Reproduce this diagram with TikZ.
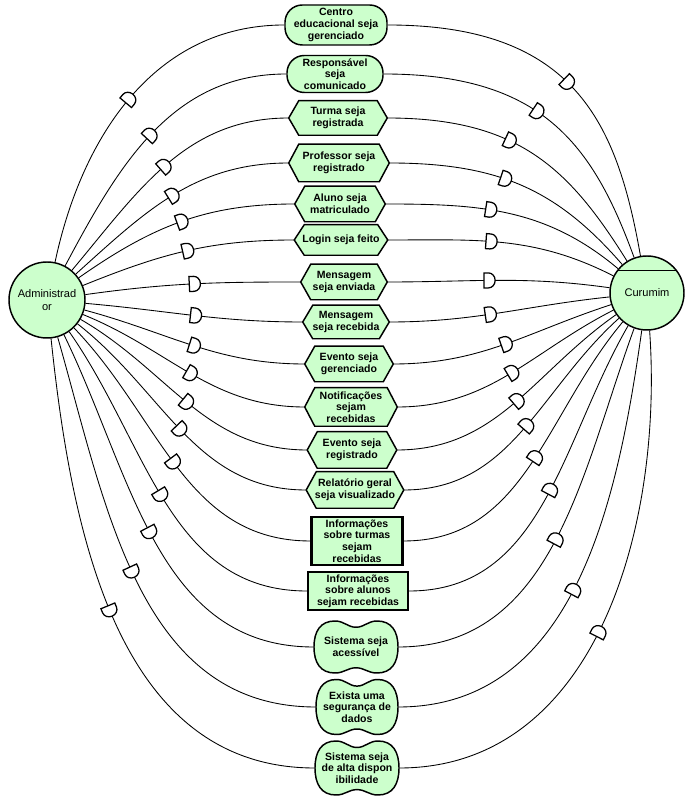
\documentclass[tikz,border=0pt]{standalone}
\usepackage{fontspec}
\setmainfont{Liberation Sans}
\usetikzlibrary{decorations.markings,backgrounds,calc}
\definecolor{istar}{RGB}{204,255,204}

% hexagonal task outline around an (invisible) text node
\newcommand\hexshape[1]{%
  \begin{scope}[on background layer]
    \path[outline] (#1.west) -- ([xshift=7.5pt]#1.north west) -- ([xshift=-7.5pt]#1.north east)
      -- (#1.east) -- ([xshift=-7.5pt]#1.south east) -- ([xshift=7.5pt]#1.south west) -- cycle;
  \end{scope}}
% cloud-like softgoal outline: node, half width, half height
\newcommand\softshape[3]{%
  \begin{scope}[on background layer, shift={(#1.center)}]
    \path[outline] (-#2,0) .. controls (-#2,0.6*#3) and (-0.85*#2,#3) .. (-0.5*#2,#3)
      .. controls (-0.28*#2,#3) and (-0.2*#2,0.76*#3) .. (0,0.76*#3)
      .. controls (0.2*#2,0.76*#3) and (0.28*#2,#3) .. (0.5*#2,#3)
      .. controls (0.85*#2,#3) and (#2,0.6*#3) .. (#2,0)
      .. controls (#2,-0.6*#3) and (0.85*#2,-#3) .. (0.5*#2,-#3)
      .. controls (0.28*#2,-#3) and (0.2*#2,-0.8*#3) .. (0,-0.8*#3)
      .. controls (-0.2*#2,-0.8*#3) and (-0.28*#2,-#3) .. (-0.5*#2,-#3)
      .. controls (-0.85*#2,-#3) and (-#2,-0.6*#3) .. (-#2,0) -- cycle;
  \end{scope}}

\begin{document}
\begin{tikzpicture}[x=0.75pt,y=0.75pt,
  every node/.style={inner sep=0pt, align=center},
  box/.style 2 args={minimum width=#1*0.75pt, minimum height=#2*0.75pt},
  lbl/.style={font=\fontsize{7.9}{8.7}\selectfont\bfseries},
  goalbox/.style={lbl, rectangle, rounded corners=13pt, draw, line width=1.1pt, fill=istar},
  taskbox/.style={lbl},
  resbox/.style={lbl, rectangle, draw, line width=1.6pt, fill=istar},
  softbox/.style={lbl},
  outline/.style={draw, line width=1.1pt, fill=istar},
  actor/.style={circle, draw, line width=1.1pt, fill=istar, font=\fontsize{8.3}{10}\selectfont},
  dlink/.style={draw, line width=0.65pt,
    postaction={decorate, decoration={markings, mark=at position #1 with {
      \filldraw[fill=white, line width=0.95pt] (-3.5,-7.5) -- (-3.5,7.5) -- (1,7.5)
        arc[start angle=90, end angle=-90, x radius=5pt, y radius=5.625pt] -- cycle;}}}}
]
\useasboundingbox (0,0) rectangle (694,800);

% actors
\node[actor, minimum size=57pt] (adm) at (47,500) {Administrad\\or};
\node[actor, minimum size=55.5pt] (cur) at (647,507) {Curumim};
\draw[line width=1.1pt] (cur.143) -- (cur.37);

% goals
\node[goalbox, box={102}{40}] (d1) at (336,775) {Centro\\educacional seja\\gerenciado};
\node[goalbox, box={96}{37}] (d2) at (335,726) {Responsável\\seja\\comunicado};
% tasks
\node[taskbox, box={98}{34}] (d3) at (338,682) {Turma seja\\registrada};
\node[taskbox, box={100}{37}] (d4) at (339,637) {Professor seja\\registrado};
\node[taskbox, box={90}{35}] (d5) at (340,596) {Aluno seja\\matriculado};
\node[taskbox, box={93}{30}] (d6) at (341,560) {Login seja feito};
\node[taskbox, box={86}{35}] (d7) at (344,518) {Mensagem\\seja enviada};
\node[taskbox, box={86}{33}] (d8) at (346,478) {Mensagem\\seja recebida};
\node[taskbox, box={88}{35}] (d9) at (349,436) {Evento seja\\gerenciado};
\node[taskbox, box={92}{38}] (d10) at (351,393) {Notificações\\sejam\\recebidas};
\node[taskbox, box={89}{36}] (d11) at (352,350) {Evento seja\\registrado};
\node[taskbox, box={97}{36}] (d12) at (355,310) {Relatório geral\\seja visualizado};
% resources
\node[resbox, box={91}{48}] (d13) at (357,259) {Informações\\sobre turmas\\sejam\\recebidas};
\node[resbox, box={100}{38}] (d14) at (358,209) {Informações\\sobre alunos\\sejam recebidas};
% softgoals
\node[softbox, box={84}{52}] (d15) at (356,153) {Sistema seja\\acessível};
\node[softbox, box={82}{55}] (d16) at (357,93) {Exista uma\\segurança de\\dados};
\node[softbox, box={84}{54}] (d17) at (357,32) {Sistema seja\\de alta dispon\\ibilidade};

\foreach \n in {d3,d4,d5,d6,d7,d8,d9,d10,d11,d12} {\hexshape{\n}}
\softshape{d15}{42}{26}
\softshape{d16}{41}{27.5}
\softshape{d17}{42}{27}

% dependency links: depender -> dependum -> dependee
\foreach \n/\a/\b/\pl/\pr/\lr in {
  d1/78/100/0.5/0.5/1.4, d2/62/110/0.5/0.47/1.3, d3/50/122/0.5/0.42/1.2, d4/42/131/0.5/0.44/1.1,
  d5/35/140/0.5/0.42/1, d6/22/153/0.5/0.44/1, d7/8/172/0.5/0.45/1, d8/-5/186/0.5/0.45/1,
  d9/-15/198/0.5/0.5/1, d10/-22/207/0.5/0.5/1, d11/-30/215/0.5/0.5/1, d12/-38/222/0.5/0.5/1,
  d13/-46/230/0.5/0.5/1, d14/-55/240/0.5/0.5/1, d15/-64/250/0.5/0.47/1, d16/-74/262/0.5/0.45/1,
  d17/-84/274/0.5/0.45/1} {
  \draw[dlink=\pl] (adm) to[out=\a, in=180] (\n);
  \draw[dlink=\pr] (\n) to[out=0, in=\b, out looseness=\lr] (cur);
}
\end{tikzpicture}
\end{document}
